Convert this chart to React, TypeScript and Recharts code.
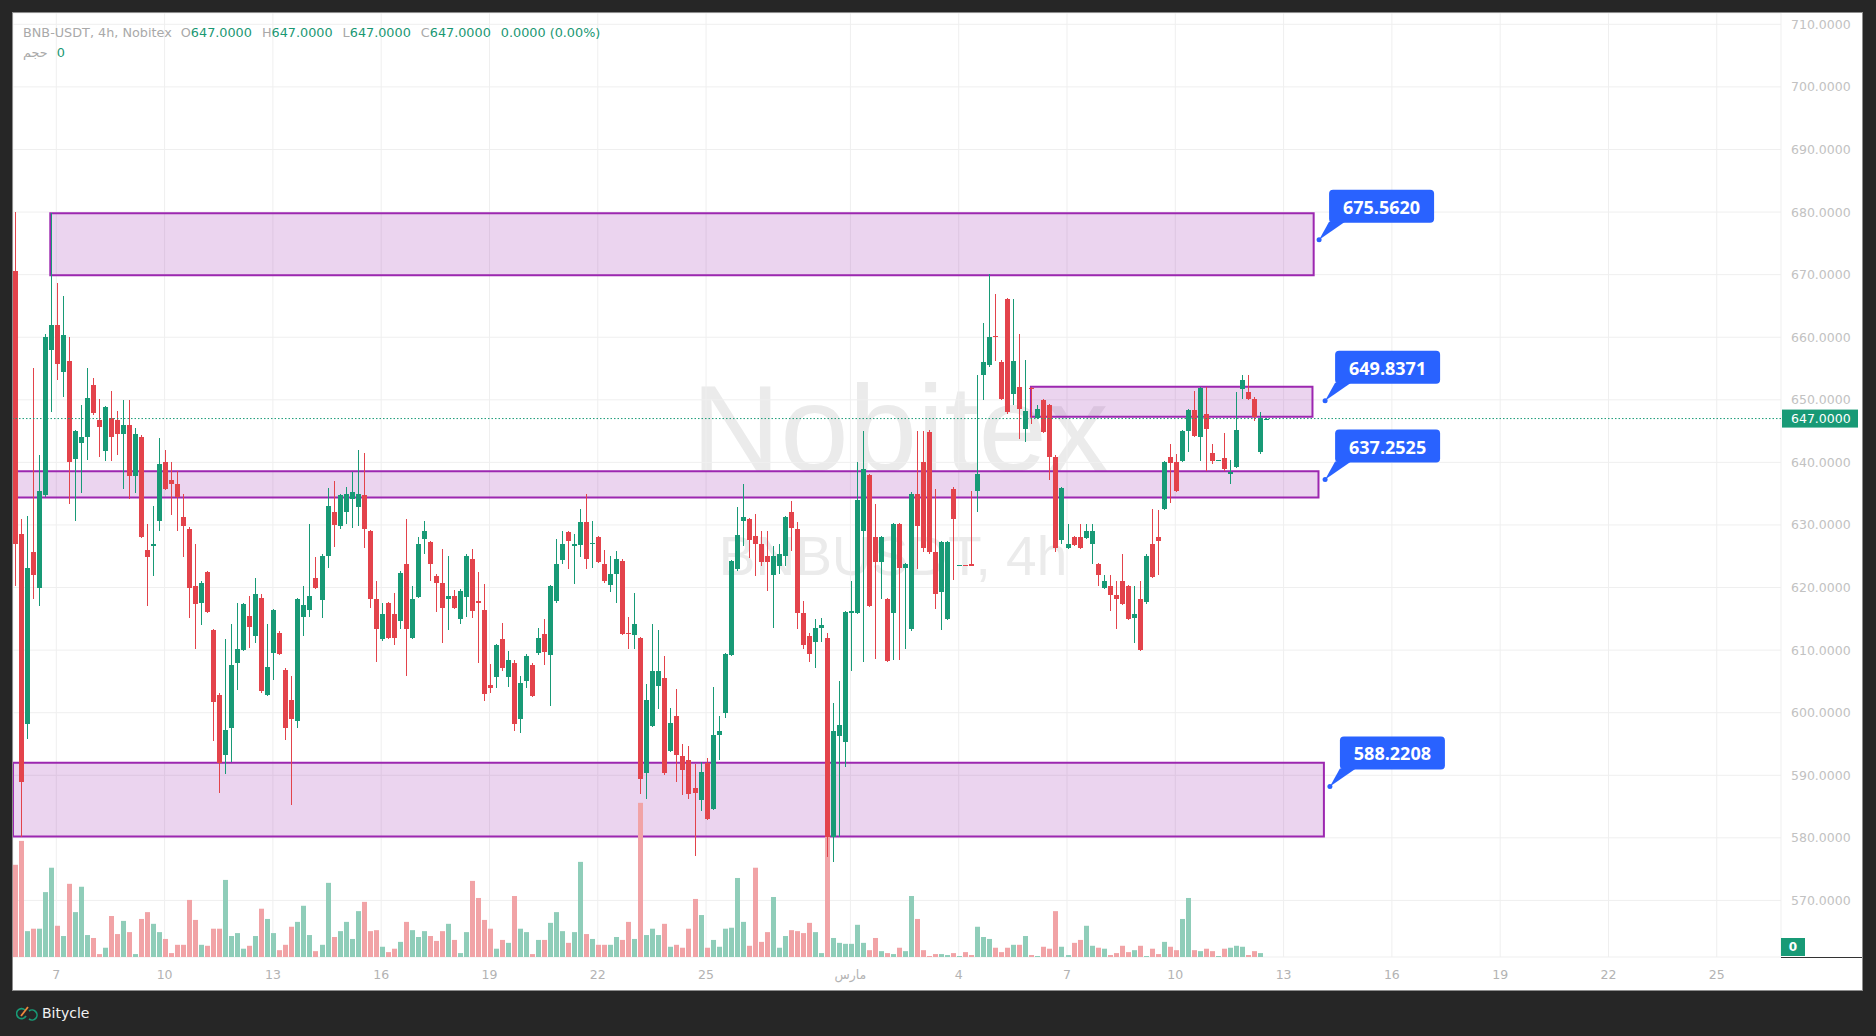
import React from "react";
import {
  ComposedChart,
  Bar,
  XAxis,
  YAxis,
  CartesianGrid,
  ReferenceArea,
  ReferenceLine,
  ReferenceDot,
} from "recharts";

// BNB-USDT 4h candles, index 0 = Feb 5 20:00
const opens = [
  670.65, 628.6, 598.2, 625.7, 620.0, 634.8, 658.0, 662.0, 654.4, 656.2,
  640.5, 643.1, 644.0, 652.3, 646.8, 641.8, 647.1, 646.8, 644.6, 645.9,
  637.8, 644.1, 626.0, 626.7, 630.6, 640.0, 637.2, 636.5, 631.3, 629.4,
  620.2, 617.6, 622.5, 613.2, 602.9, 593.2, 597.5, 608.0, 610.0, 615.4,
  612.2, 618.4, 602.8, 609.5, 612.8, 606.9, 602.1, 598.6, 615.3, 616.4,
  621.6, 618.0, 625.0, 632.1, 629.8, 632.0, 634.1, 632.8, 634.8, 629.0,
  618.1, 611.7, 617.5, 615.8, 614.7, 623.8, 612.0, 618.5, 627.7, 627.2,
  621.9, 620.8, 618.1, 618.6, 615.0, 618.5, 624.5, 617.8, 616.4, 604.5,
  605.7, 611.7, 605.7, 607.9, 599.0, 605.1, 607.7, 609.6, 612.5, 609.2,
  617.9, 624.4, 628.8, 626.7, 626.8, 630.4, 626.9, 628.1, 623.8, 620.4,
  622.1, 624.3, 612.7, 612.4, 611.9, 590.3, 597.9, 604.3, 605.5, 593.9,
  599.5, 593.0, 592.5, 587.9, 586.0, 592.0, 584.6, 596.4, 599.9, 609.2,
  622.9, 630.6, 630.9, 628.2, 627.0, 625.1, 622.0, 623.5, 625.0, 632.0,
  629.4, 616.0, 612.2, 611.3, 613.5, 611.9, 580.1, 596.3, 595.3, 616.0,
  616.0, 629.0, 638.0, 628.1, 624.1, 618.1, 615.9, 630.1, 623.1, 613.3,
  635.0, 640.0, 644.9, 625.7, 619.3, 615.0, 635.8, 623.6, 623.65, 623.7,
  635.4, 653.9, 655.5, 660.2, 656.1, 666.1, 651.0, 652.0, 645.3, 651.9,
  647.1, 649.9, 649.2, 640.9, 627.6, 626.3, 628.1, 628.1, 627.9, 627.0,
  623.7, 620.0, 620.2, 618.8, 621.1, 620.2, 615.1, 618.1, 617.7, 627.0,
  628.1, 632.6, 640.9, 640.0, 640.2, 645.0, 648.4, 644.0, 647.8, 641.5,
  640.3, 640.7, 638.2, 639.3, 651.8, 651.3, 650.2, 641.6, 647.0,
];

const highs = [
  680.0, 630.9, 631.5, 655.1, 641.1, 660.5, 679.8, 668.7, 666.6, 660.1,
  645.2, 649.1, 655.1, 653.5, 650.2, 649.0, 651.4, 648.2, 650.0, 650.0,
  645.5, 644.3, 630.1, 633.1, 643.9, 642.0, 640.0, 638.6, 635.0, 629.6,
  626.9, 621.0, 622.7, 613.4, 603.1, 611.7, 614.1, 617.6, 617.5, 618.7,
  621.6, 619.0, 614.2, 616.6, 613.0, 607.1, 605.9, 618.3, 620.2, 630.1,
  624.8, 625.3, 635.9, 637.1, 635.0, 636.1, 638.5, 642.0, 641.5, 629.2,
  621.0, 617.6, 617.7, 619.2, 622.6, 631.0, 620.2, 628.1, 630.7, 627.4,
  622.1, 626.2, 625.1, 619.6, 619.7, 625.3, 626.2, 622.5, 620.5, 607.8,
  611.0, 614.3, 609.9, 608.4, 605.9, 609.3, 607.9, 613.6, 615.0, 620.4,
  627.7, 629.0, 629.1, 628.6, 632.6, 635.0, 630.7, 628.3, 626.0, 625.1,
  625.9, 624.5, 615.3, 619.2, 612.1, 604.6, 614.1, 613.2, 609.1, 600.8,
  603.8, 595.0, 594.6, 591.8, 592.2, 592.8, 604.1, 599.5, 609.5, 624.4,
  632.9, 636.6, 631.1, 631.8, 629.0, 629.1, 626.7, 627.0, 631.4, 633.8,
  630.4, 617.9, 612.8, 615.0, 615.2, 612.8, 601.5, 605.0, 616.3, 621.0,
  640.0, 645.0, 638.2, 633.3, 628.3, 618.3, 630.3, 630.3, 624.0, 635.2,
  645.0, 645.0, 645.1, 635.8, 627.4, 627.4, 636.0, 623.6, 623.65, 635.5,
  653.9, 662.2, 670.1, 666.9, 656.3, 666.3, 666.1, 660.5, 656.4, 652.0,
  649.2, 650.1, 649.4, 641.1, 636.1, 630.1, 628.3, 630.1, 630.1, 630.1,
  623.9, 622.0, 622.0, 621.0, 625.4, 620.4, 620.2, 621.0, 625.3, 632.6,
  632.4, 640.2, 643.0, 641.4, 645.2, 648.6, 651.4, 652.1, 652.1, 643.0,
  640.4, 644.7, 640.4, 651.2, 654.0, 654.0, 650.4, 648.1, 647.0,
];

const lows = [
  620.3, 580.2, 595.8, 618.2, 617.1, 634.5, 648.1, 653.1, 650.4, 633.3,
  630.6, 635.1, 640.4, 647.6, 640.8, 640.2, 640.2, 641.1, 635.7, 634.1,
  635.1, 627.9, 617.1, 621.8, 629.0, 635.6, 631.6, 629.1, 624.9, 615.1,
  610.1, 614.0, 615.9, 595.5, 587.2, 590.2, 592.1, 603.6, 609.8, 610.3,
  611.1, 603.2, 602.6, 605.2, 609.2, 595.7, 585.2, 597.5, 612.2, 615.3,
  619.8, 615.1, 623.1, 626.4, 629.3, 630.1, 629.5, 629.9, 626.3, 616.8,
  608.1, 611.5, 611.7, 610.8, 613.3, 605.8, 611.8, 618.3, 625.4, 621.0,
  616.1, 611.2, 613.2, 616.6, 614.2, 615.3, 615.1, 608.0, 601.9, 603.2,
  603.9, 606.6, 604.1, 597.1, 596.8, 603.9, 602.5, 609.2, 607.6, 601.1,
  617.5, 623.8, 623.0, 620.6, 624.9, 622.9, 623.1, 623.9, 620.7, 619.3,
  617.5, 612.4, 610.1, 610.1, 587.0, 586.2, 597.7, 600.6, 590.1, 593.7,
  588.9, 586.9, 586.2, 577.1, 584.3, 582.8, 584.4, 592.4, 599.2, 609.0,
  622.7, 626.7, 624.7, 621.8, 623.5, 619.5, 613.6, 622.1, 623.5, 625.8,
  613.4, 610.1, 608.1, 607.2, 611.3, 577.0, 576.2, 580.2, 591.4, 606.6,
  615.8, 608.1, 616.9, 608.6, 618.2, 608.1, 608.4, 608.4, 610.1, 613.1,
  623.0, 625.7, 625.4, 616.5, 613.2, 614.8, 621.2, 623.6, 623.6, 623.5,
  632.1, 650.0, 655.3, 656.2, 649.9, 647.8, 649.2, 643.8, 643.2, 646.1,
  646.9, 644.7, 637.2, 625.6, 627.0, 626.1, 626.6, 626.1, 627.7, 623.8,
  620.2, 619.8, 616.2, 613.4, 617.2, 614.8, 611.1, 609.8, 617.3, 621.5,
  622.0, 632.4, 633.5, 635.2, 640.0, 641.7, 644.0, 640.3, 638.6, 639.7,
  640.3, 638.7, 636.5, 639.1, 650.2, 649.9, 646.6, 641.4, 647.0,
];

const closes = [
  627.0, 588.9, 623.1, 622.0, 635.5, 660.1, 662.0, 655.8, 660.4, 640.0,
  645.0, 644.1, 650.3, 647.9, 645.7, 648.8, 644.0, 644.6, 645.9, 637.8,
  644.6, 628.1, 624.9, 626.9, 639.8, 635.8, 636.6, 634.4, 629.9, 620.0,
  617.3, 620.8, 616.1, 601.7, 592.0, 597.3, 607.7, 610.1, 617.3, 613.7,
  619.0, 603.4, 607.3, 616.4, 609.4, 597.5, 599.0, 618.1, 617.2, 618.6,
  620.0, 625.1, 633.1, 630.0, 634.8, 635.0, 635.3, 635.0, 629.4, 618.1,
  613.3, 615.7, 611.9, 611.9, 622.4, 613.3, 618.2, 627.0, 629.1, 623.8,
  620.7, 616.7, 618.6, 616.8, 619.5, 625.1, 616.2, 617.6, 603.0, 603.9,
  610.8, 607.1, 608.5, 598.2, 604.7, 609.1, 602.7, 611.9, 609.7, 620.2,
  623.7, 626.9, 627.4, 626.9, 630.4, 624.5, 627.1, 624.1, 621.0, 622.2,
  624.5, 612.6, 612.5, 614.1, 589.4, 602.0, 606.7, 606.6, 590.3, 598.4,
  593.2, 590.8, 587.0, 587.2, 590.6, 583.0, 596.5, 597.1, 609.3, 624.2,
  628.4, 631.2, 627.6, 627.0, 624.1, 624.1, 625.1, 625.3, 631.2, 629.5,
  615.9, 610.8, 609.4, 613.6, 614.0, 580.1, 597.1, 598.1, 616.1, 616.2,
  634.0, 639.0, 617.1, 624.1, 628.1, 608.3, 630.1, 623.1, 623.8, 635.0,
  629.9, 626.3, 625.6, 619.0, 627.2, 627.2, 630.9, 623.6, 623.6, 623.5,
  638.2, 656.1, 660.1, 660.0, 650.1, 648.0, 656.2, 648.5, 648.2, 651.7,
  648.5, 644.9, 640.9, 626.3, 635.9, 626.9, 626.8, 626.3, 629.1, 629.1,
  622.0, 621.1, 618.8, 618.2, 617.4, 615.0, 615.7, 610.0, 625.1, 621.7,
  627.5, 640.0, 639.9, 635.4, 645.0, 648.4, 644.2, 651.9, 645.3, 640.2,
  640.4, 638.9, 638.4, 645.2, 653.1, 650.1, 647.3, 647.1, 647.0,
];

const volumes = [
  189, 238, 53, 58, 58, 133, 183, 64, 43, 150,
  92, 144, 45, 39, 6, 19, 84, 47, 74, 51,
  6, 78, 92, 68, 51, 37, 8, 25, 25, 117,
  76, 25, 23, 58, 58, 158, 43, 49, 17, 23,
  43, 99, 78, 49, 14, 25, 62, 72, 105, 45,
  12, 25, 152, 41, 53, 72, 37, 94, 113, 53,
  55, 21, 10, 17, 31, 72, 55, 41, 53, 43,
  33, 53, 68, 35, 8, 51, 156, 121, 76, 58,
  17, 35, 29, 125, 58, 51, 6, 35, 35, 70,
  92, 53, 29, 51, 195, 47, 37, 25, 25, 25,
  41, 35, 72, 37, 316, 45, 58, 45, 68, 21,
  25, 19, 58, 119, 86, 19, 35, 21, 58, 60,
  162, 72, 23, 183, 31, 51, 123, 19, 43, 55,
  53, 49, 70, 51, 8, 320, 39, 29, 27, 27,
  66, 29, 14, 39, 12, 8, 6, 19, 12, 125,
  78, 14, 2, 6, 6, 4, 8, 2, 10, 4,
  62, 41, 37, 19, 10, 19, 25, 25, 43, 4,
  2, 21, 17, 94, 21, 4, 29, 35, 64, 23,
  19, 17, 4, 8, 23, 10, 14, 23, 2, 17,
  6, 31, 21, 14, 78, 121, 14, 12, 17, 12,
  2, 17, 19, 23, 21, 4, 12, 8, 0,
];

const dayTicks = [7, 25, 43, 61, 79, 97, 115, 139, 157, 175, 193, 211, 229, 247, 265, 283];
const dayLabels = ["7", "10", "13", "16", "19", "22", "25", "مارس", "4", "7", "10", "13", "16", "19", "22", "25"];
const priceTicks = [570, 580, 590, 600, 610, 620, 630, 640, 650, 660, 670, 680, 690, 700, 710];

const zoneStart = [6, 169, -0.2, -0.2];
const zoneEnd = [216, 215.8, 216.8, 217.7];
const zoneTop = [679.8, 652.1, 638.6, 592.0];
const zoneBottom = [669.9, 647.3, 634.4, 580.2];

const calloutX = [216.9, 217.9, 217.9, 218.7];
const calloutPrice = [675.562, 649.8371, 637.2525, 588.2208];

const lastPrice = 647;
const X_DOMAIN: [number, number] = [-0.2, 293.68];
const PRICE_DOMAIN: [number, number] = [560.96, 711.81];
const VOL_DOMAIN: [number, number] = [0, 1935];

const GREEN = "#189a76";
const RED = "#e3434b";
const VOL_UP = "#8fcdb9";
const VOL_DOWN = "#f1a3a6";
const BLUE = "#2962ff";
const PURPLE = "#9c27b0";
const UI_FONT = '"DejaVu Sans", sans-serif';

const data = opens.map((o, i) => ({
  i,
  o,
  h: highs[i],
  l: lows[i],
  c: closes[i],
  v: volumes[i],
  range: [lows[i], Math.max(highs[i], lows[i] + 0.02)],
}));

function CandleShape(props: any) {
  const { x, y, width, height, payload } = props;
  if (x == null || y == null || !payload) return null;
  const top = Math.min(y, y + height);
  const span = Math.abs(height);
  const [lo, hi] = payload.range;
  const k = span / (hi - lo);
  const py = (v: number) => top + (hi - v) * k;
  const color = payload.c >= payload.o ? GREEN : RED;
  const cx = Math.round(x + width / 2);
  const yo = py(payload.o);
  const yc = py(payload.c);
  const bt = Math.round(Math.min(yo, yc));
  let bb = Math.round(Math.max(yo, yc));
  if (bb - bt < 1) bb = bt + 1;
  const wt = Math.round(top);
  const wb = Math.max(wt + 1, Math.round(top + span));
  return (
    <g>
      <rect x={cx} y={wt} width={1} height={wb - wt} fill={color} />
      <rect x={cx - 2} y={bt} width={5} height={bb - bt} fill={color} />
    </g>
  );
}

function VolumeShape(props: any) {
  const { x, y, width, height, payload } = props;
  if (!height || !payload) return null;
  const cx = Math.round(x + width / 2);
  return (
    <rect
      x={cx - 2}
      y={y}
      width={5}
      height={height}
      fill={payload.c >= payload.o ? VOL_UP : VOL_DOWN}
    />
  );
}

function Callout({ cx, cy, text }: any) {
  return (
    <g>
      <polygon points={`${cx},${cy} ${cx + 10},${cy - 18} ${cx + 26},${cy - 18}`} fill={BLUE} />
      <circle cx={cx} cy={cy} r={2.5} fill={BLUE} />
      <rect x={cx + 10} y={cy - 50} width={105} height={33} rx={4} fill={BLUE} />
      <text
        x={cx + 62.5}
        y={cy - 33}
        textAnchor="middle"
        dominantBaseline="central"
        fill="#fff"
        fontSize={18}
        fontWeight="bold"
        fontFamily='"Open Sans", sans-serif'
      >
        {text}
      </text>
    </g>
  );
}

function PriceTag({ cx, cy }: any) {
  return (
    <g>
      <rect x={cx + 1} y={cy - 9} width={76} height={18} fill={GREEN} />
      <text x={cx + 10} y={cy} dominantBaseline="central" fill="#fff" fontSize={12.5} fontFamily={UI_FONT}>
        {lastPrice.toFixed(4)}
      </text>
    </g>
  );
}

function ZeroTag({ cx, cy }: any) {
  return (
    <g>
      <rect x={cx} y={cy - 19} width={24} height={18} fill={GREEN} />
      <text x={cx + 12} y={cy - 10} textAnchor="middle" dominantBaseline="central" fill="#fff" fontSize={12} fontWeight="bold" fontFamily={UI_FONT}>
        0
      </text>
      <line x1={cx} x2={cx + 81} y1={cy + 0.5} y2={cy + 0.5} stroke="#333" strokeWidth={1} />
    </g>
  );
}

function BikeIcon() {
  return (
    <svg width={22} height={18} viewBox="0 0 22 18">
      <path d="M9 6 A5 5 0 1 0 10 12" fill="none" stroke={GREEN} strokeWidth={1.6} />
      <path d="M13 7 A5 5 0 1 1 13 15" fill="none" stroke={GREEN} strokeWidth={1.6} />
      <path d="M5 12 L12 3" stroke="#f08a3c" strokeWidth={1.8} />
    </svg>
  );
}

export default function App() {
  const hdrGrey = "#a9a9a9";
  const hdrGreen = "#1a9873";
  const seg = { display: "inline-block" } as const;
  return (
    <div style={{ position: "absolute", left: 0, top: 0, width: 1876, height: 1036, background: "#262626", overflow: "hidden" }}>
      <div style={{ position: "absolute", left: 13, top: 13, width: 1849, height: 977, background: "#fff", outline: "1px solid #8d8d8d" }}>
        <svg width={1768} height={944} style={{ position: "absolute", left: 0, top: 0 }}>
          <text x={887} y={458} textAnchor="middle" fill="#ebebeb" fontSize={123} fontFamily='"Liberation Sans", Arial, sans-serif'>
            Nobitex
          </text>
          <text x={880} y={562} textAnchor="middle" fill="#ebebeb" fontSize={55} fontFamily='"Liberation Sans", Arial, sans-serif'>
            BNBUSDT, 4h
          </text>
        </svg>
        <div style={{ position: "absolute", left: 0, top: 0 }}>
          <ComposedChart width={1849} height={977} data={data} margin={{ top: 0, right: 0, bottom: 0, left: 0 }}>
            <CartesianGrid xAxisId="main" yAxisId="price" stroke="#efefef" />
            <XAxis
              xAxisId="main"
              dataKey="i"
              type="number"
              domain={X_DOMAIN}
              allowDataOverflow
              ticks={dayTicks}
              interval={0}
              tickFormatter={(v: number) => dayLabels[dayTicks.indexOf(v)] ?? ""}
              height={33}
              axisLine={false}
              tickLine={false}
              tickSize={0}
              tickMargin={13}
              tick={{ fill: "#b3b3b3", fontSize: 12.5, fontFamily: UI_FONT }}
            />
            <XAxis xAxisId="vol" dataKey="i" type="number" domain={X_DOMAIN} allowDataOverflow hide />
            <YAxis
              yAxisId="price"
              orientation="right"
              width={81}
              domain={PRICE_DOMAIN}
              allowDataOverflow
              ticks={priceTicks}
              interval={0}
              tickFormatter={(v: number) => v.toFixed(4)}
              axisLine={false}
              tickLine={false}
              tickSize={0}
              tickMargin={10}
              tick={{ fill: "#c2c2c2", fontSize: 12.5, fontFamily: UI_FONT, textAnchor: "start" }}
            />
            <YAxis yAxisId="vol" domain={VOL_DOMAIN} allowDataOverflow hide />
            {zoneStart.map((x1, k) => (
              <ReferenceArea
                key={`z${k}`}
                xAxisId="main"
                yAxisId="price"
                x1={x1}
                x2={zoneEnd[k]}
                y1={zoneBottom[k]}
                y2={zoneTop[k]}
                fill="rgba(156,39,176,0.2)"
                fillOpacity={1}
                stroke={PURPLE}
                strokeWidth={2}
                ifOverflow="visible"
              />
            ))}
            <Bar
              xAxisId="vol"
              yAxisId="vol"
              dataKey="v"
              barSize={5}
              shape={VolumeShape}
              isAnimationActive={false}
            />
            <Bar
              xAxisId="main"
              yAxisId="price"
              dataKey="range"
              barSize={5}
              shape={CandleShape}
              isAnimationActive={false}
            />
            <ReferenceLine xAxisId="main" yAxisId="price" y={lastPrice} stroke={GREEN} strokeDasharray="1.5 2" />
            <ReferenceDot xAxisId="main" yAxisId="price" x={X_DOMAIN[1]} y={lastPrice} ifOverflow="visible" shape={PriceTag} />
            <ReferenceDot xAxisId="vol" yAxisId="vol" x={X_DOMAIN[1]} y={0} ifOverflow="visible" shape={ZeroTag} />
            {calloutX.map((x, k) => (
              <ReferenceDot
                key={`c${k}`}
                xAxisId="main"
                yAxisId="price"
                x={x}
                y={calloutPrice[k]}
                ifOverflow="visible"
                shape={(p: any) => <Callout cx={p.cx} cy={p.cy} text={calloutPrice[k].toFixed(4)} />}
              />
            ))}
          </ComposedChart>
        </div>
        <div style={{ position: "absolute", left: 10, top: 12, fontFamily: UI_FONT, fontSize: 12.8, lineHeight: "16px", whiteSpace: "pre", color: hdrGrey, direction: "ltr" }}>
          <span style={seg}>BNB-USDT, 4h, Nobitex</span>
          <span style={{ ...seg, marginLeft: 9 }}>O</span><span style={{ ...seg, color: hdrGreen }}>647.0000</span>
          <span style={{ ...seg, marginLeft: 10 }}>H</span><span style={{ ...seg, color: hdrGreen }}>647.0000</span>
          <span style={{ ...seg, marginLeft: 10 }}>L</span><span style={{ ...seg, color: hdrGreen }}>647.0000</span>
          <span style={{ ...seg, marginLeft: 10 }}>C</span><span style={{ ...seg, color: hdrGreen }}>647.0000</span>
          <span style={{ ...seg, marginLeft: 10, color: hdrGreen }}>0.0000 (0.00%)</span>
        </div>
        <div style={{ position: "absolute", left: 10, top: 32, fontFamily: UI_FONT, fontSize: 12.8, lineHeight: "16px", whiteSpace: "pre", color: hdrGrey, direction: "ltr" }}>
          <span style={seg}>حجم</span>
          <span style={{ ...seg, marginLeft: 9, color: hdrGreen }}>0</span>
        </div>
      </div>
      <div style={{ position: "absolute", left: 16, top: 1004, display: "flex", alignItems: "center", gap: 4 }}>
        <BikeIcon />
        <span style={{ color: "#f2f2f2", fontFamily: UI_FONT, fontSize: 14 }}>Bitycle</span>
      </div>
    </div>
  );
}
